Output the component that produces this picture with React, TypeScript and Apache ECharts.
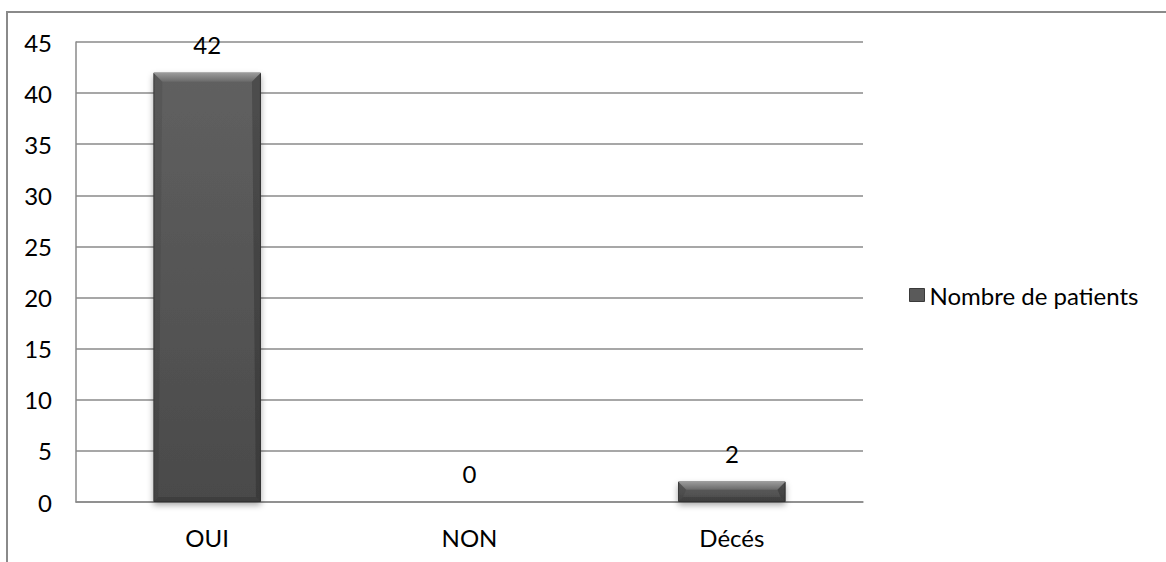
import React, { useEffect, useRef } from "react";
import * as echarts from "echarts";

const categories = ["OUI", "NON", "Décés"];
const patients = [42, 0, 2];
const seriesName = "Nombre de patients";
const yTicks = { min: 0, max: 45, interval: 5 };

const FONT = "Lato, 'Open Sans', sans-serif";
const FS = 24;

export default function App() {
  const ref = useRef<HTMLDivElement>(null);
  useEffect(() => {
    if (!ref.current) return;
    const chart = echarts.init(ref.current, null, { renderer: "svg" });
    const BAR_RATIO = 0.41;
    chart.setOption({
      animation: false,
      backgroundColor: "#ffffff",
      textStyle: { fontFamily: FONT },
      graphic: [
        {
          type: "rect",
          shape: { x: 7, y: 12, width: 1300, height: 700 },
          style: { fill: "none", stroke: "#8a8a8a", lineWidth: 2 },
          silent: true,
          z: -1,
        },
      ],
      grid: { left: 76, top: 42, right: 303, bottom: 60, containLabel: false },
      legend: {
        left: 904,
        top: 278,
        itemWidth: 15,
        itemHeight: 13,
        icon: "rect",
        data: [seriesName],
        itemStyle: { color: "#5a5a5a", borderColor: "#3a3a3a", borderWidth: 1 },
        textStyle: { fontFamily: FONT, fontSize: FS, color: "#000" },
      },
      xAxis: {
        type: "category",
        data: categories,
        axisLine: { show: true, lineStyle: { color: "#8a8a8a", width: 1.5 } },
        axisTick: { show: false },
        axisLabel: { fontFamily: FONT, fontSize: FS, color: "#000", margin: 23 },
      },
      yAxis: {
        type: "value",
        min: yTicks.min,
        max: yTicks.max,
        interval: yTicks.interval,
        axisLine: { show: true, lineStyle: { color: "#8a8a8a", width: 1.5 } },
        axisTick: { show: false },
        splitLine: { show: true, lineStyle: { color: "#8a8a8a", width: 1.5 } },
        axisLabel: { fontFamily: FONT, fontSize: FS, color: "#000", margin: 24 },
      },
      series: [
        {
          name: seriesName,
          type: "bar",
          data: patients,
          barWidth: BAR_RATIO * 100 + "%",
          itemStyle: {
            color: new echarts.graphic.LinearGradient(0, 0, 0, 1, [
              { offset: 0, color: "#606060" },
              { offset: 1, color: "#4a4a4a" },
            ]),
            borderColor: "#3c3c3c",
            borderWidth: 1,
            shadowColor: "rgba(0,0,0,0.35)",
            shadowBlur: 6,
            shadowOffsetY: 3,
          },
          label: {
            show: true,
            position: "top",
            distance: 16,
            fontFamily: FONT,
            fontSize: FS,
            color: "#000",
          },
        },
        {
          name: "bevel",
          type: "custom",
          data: patients.map((v, i) => [i, v]),
          silent: true,
          z: 3,
          renderItem: (params: any, api: any) => {
            const v = api.value(1);
            if (!v) return null;
            const top = api.coord([api.value(0), v]);
            const base = api.coord([api.value(0), 0]);
            const w = api.size([1, 0])[0] * BAR_RATIO;
            const x0 = top[0] - w / 2;
            const x1 = top[0] + w / 2;
            const y0 = top[1];
            const y1 = base[1];
            const h = y1 - y0;
            const b = Math.min(9, h * 0.4);
            const s = Math.min(5, h * 0.3);
            return {
              type: "group",
              children: [
                {
                  type: "polygon",
                  shape: { points: [[x0, y0], [x1, y0], [x1 - b, y0 + b], [x0 + b, y0 + b]] },
                  style: {
                    fill: new echarts.graphic.LinearGradient(0, 0, 0, 1, [
                      { offset: 0, color: "#9c9c9c" },
                      { offset: 1, color: "#6a6a6a" },
                    ]),
                  },
                },
                {
                  type: "polygon",
                  shape: { points: [[x0, y0], [x0 + b, y0 + b], [x0 + s, y1 - s], [x0, y1]] },
                  style: { fill: "rgba(0,0,0,0.08)" },
                },
                {
                  type: "polygon",
                  shape: { points: [[x1, y0], [x1, y1], [x1 - s, y1 - s], [x1 - b, y0 + b]] },
                  style: { fill: "rgba(0,0,0,0.2)" },
                },
                {
                  type: "polygon",
                  shape: { points: [[x0, y1], [x0 + s, y1 - s], [x1 - s, y1 - s], [x1, y1]] },
                  style: { fill: "rgba(0,0,0,0.15)" },
                },
              ],
            };
          },
        },
      ],
    });
    return () => chart.dispose();
  }, []);
  return (
    <div
      ref={ref}
      style={{ position: "fixed", left: 0, top: 0, width: 1166, height: 562 }}
    />
  );
}
